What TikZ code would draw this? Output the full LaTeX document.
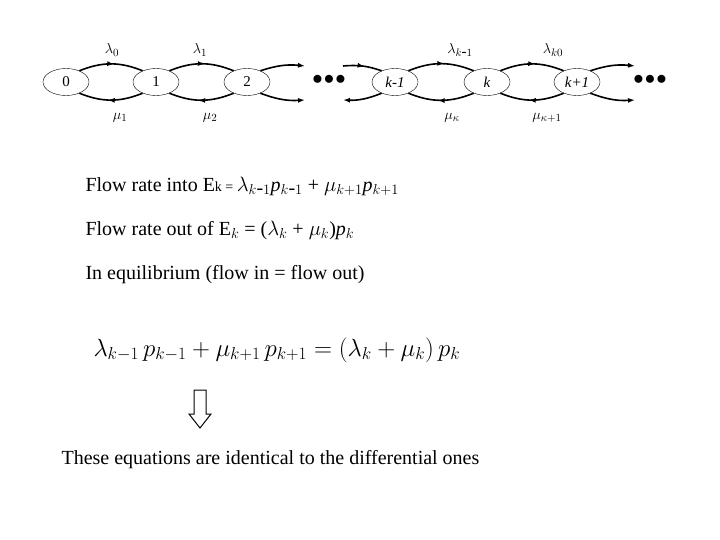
\documentclass[tikz,border=0pt]{standalone}
\usepackage{fontspec}
\setmainfont{Liberation Serif}
\usetikzlibrary{decorations.markings,arrows.meta,shapes.geometric}
\begin{document}
\begin{tikzpicture}[x=1pt,y=-1pt,
  st/.style={draw,ellipse,minimum width=46,minimum height=27,inner sep=0,font=\fontsize{15}{16}\selectfont},
  arc/.style={line width=1.6pt,postaction={decorate},decoration={markings,mark=at position 0.55 with {\arrow{Latex[length=7pt,width=5pt]}}}},
  arce/.style={line width=1.6pt,-{Latex[length=7pt,width=5pt]}},
  lab/.style={font=\fontsize{15}{16}\selectfont},
  txt/.style={anchor=west,font=\fontsize{20}{24}\selectfont},
  dots/.style={font=\fontsize{22}{22}\selectfont\bfseries}]
\useasboundingbox (0,0) rectangle (720,540);
\node[st] (s0) at (66,82) {0};
\node[st] (s1) at (156,82) {1};
\node[st] (s2) at (247,82) {2};
\node[dots] (d1) at (329,80) {$\bullet\!\bullet\!\bullet$};
\node[st] (sk1) at (395,82) {\itshape k-1};
\node[st] (sk) at (487,82) {\itshape k};
\node[st] (sk2) at (577,82) {\itshape k+1};
\node[dots] (d2) at (650,80) {$\bullet\!\bullet\!\bullet$};
\coordinate (a1) at (305,66); \coordinate (a2) at (305,100);
\coordinate (b1) at (343,66); \coordinate (b2) at (343,100);
\coordinate (c1) at (635,66); \coordinate (c2) at (635,100);
\foreach \u/\v in {s0/s1,s1/s2,sk1/sk,sk/sk2}{
  \draw[arc] (\u.40) to[bend left=22] (\v.140);
  \draw[arc] (\v.-140) to[bend left=22] (\u.-40);
}
\draw[arce] (s2.40) to[bend left=12] (a1);
\draw[arce] (s2.-40) to[bend right=12] (a2);
\draw[arc] (b1) to[bend left=12] (sk1.140);
\draw[arce] (sk1.-140) to[bend left=12] (b2);
\draw[arce] (sk2.40) to[bend left=12] (c1);
\draw[arce] (sk2.-40) to[bend right=12] (c2);
\node[lab] (l0) at (112,50) {$\lambda_0$};
\node[lab] (l1) at (200,50) {$\lambda_1$};
\node[lab] (lk1) at (460,50) {$\lambda_{k\mbox{-}1}$};
\node[lab] (lk) at (553,50) {$\lambda_{k0}$};
\node[lab] (m1) at (120,118) {$\mu_1$};
\node[lab] (m2) at (210,118) {$\mu_2$};
\node[lab] (mk) at (452,118) {$\mu_\kappa$};
\node[lab] (mk1) at (547,118) {$\mu_{\kappa+1}$};
\node[txt] (t1) at (82,186) {Flow rate into E{\fontsize{14}{14}\selectfont k = }$\lambda_{k\mbox{-}1}$\textit{p}$_{k\mbox{-}1}$ + $\mu_{k+1}$\textit{p}$_{k+1}$};
\node[txt] (t2) at (82,230) {Flow rate out of E$_k$ = ($\lambda_k$ + $\mu_k$)\textit{p}$_k$};
\node[txt] (t3) at (82,275) {In equilibrium (flow in = flow out)};
\node[anchor=west,font=\fontsize{26}{30}\selectfont] (eq) at (90,350) {$\lambda_{k-1}\,p_{k-1}+\mu_{k+1}\,p_{k+1}=(\lambda_k+\mu_k)\,p_k$};
\draw[line width=1pt] (194,390) -- (194,414) -- (189,414) -- (200,428) -- (211,414) -- (206,414) -- (206,390) -- cycle;
\node[txt] (t4) at (58,460) {These equations are identical to the differential ones};
\end{tikzpicture}
\end{document}
